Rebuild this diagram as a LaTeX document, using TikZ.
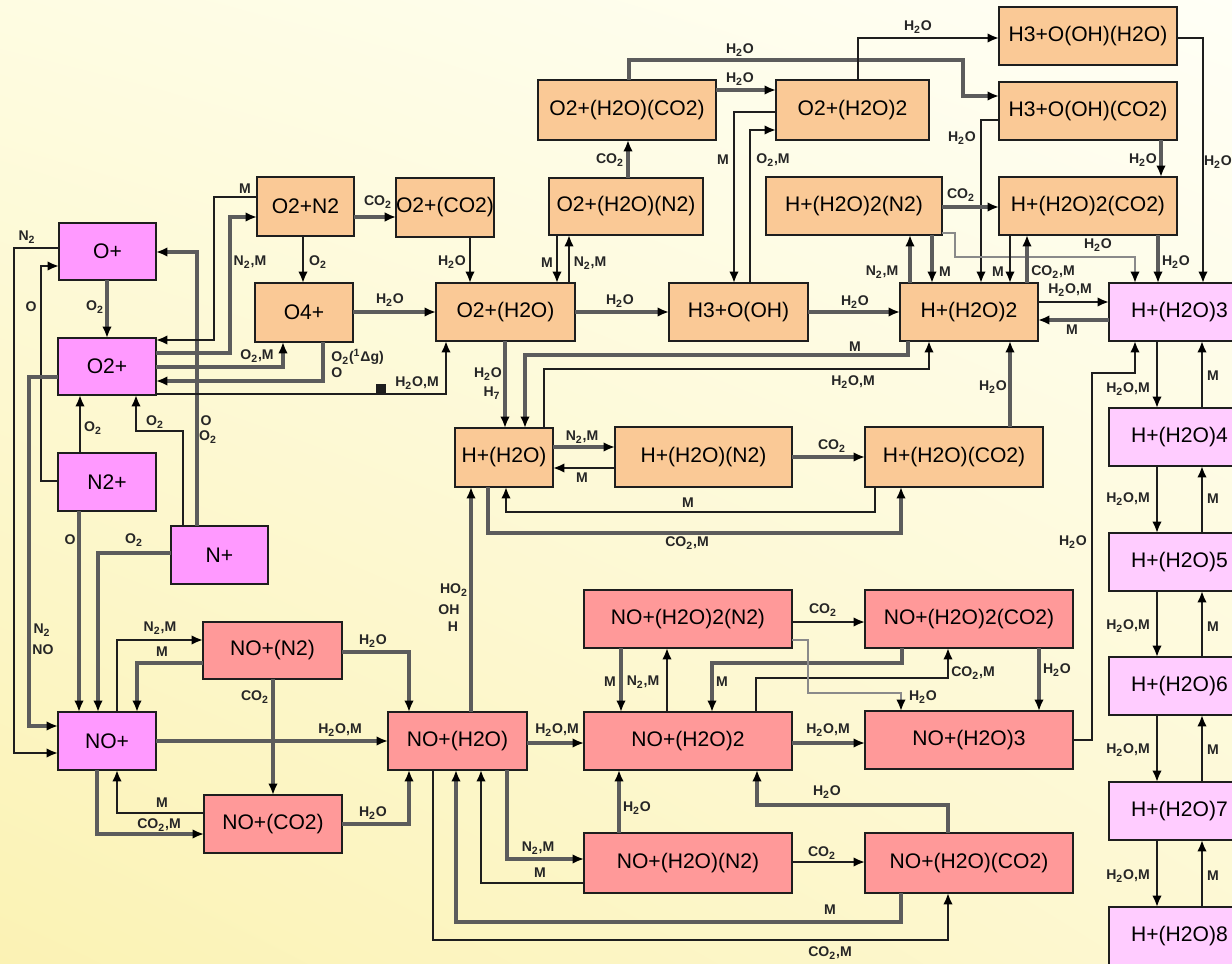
\documentclass[tikz,border=0pt]{standalone}
\usepackage{fontspec}
\setmainfont{Liberation Sans}
\usetikzlibrary{arrows.meta,shadings}
\definecolor{bgUL}{HTML}{FEFCE2}
\definecolor{bgUR}{HTML}{FFFFF6}
\definecolor{bgLL}{HTML}{FBF2B4}
\definecolor{bgLR}{HTML}{FDF8D2}
\definecolor{orgF}{HTML}{FAC996}
\definecolor{magF}{HTML}{FF99FF}
\definecolor{salF}{HTML}{FF9999}
\definecolor{lpkF}{HTML}{FFCCFF}
\definecolor{lnB}{HTML}{1E1E1E}
\definecolor{lnG}{HTML}{5C5C5C}
\definecolor{lnL}{HTML}{8A8A8A}
\newcommand\tw{\textsubscript{2}}
\newcommand\bx[7]{\node[#6, minimum width={(#4-#2)*0.02cm}, minimum height={(#5-#3)*0.02cm}] (#1) at ({(#2+#4)/2},{(#3+#5)/2}) {#7};}
\newcommand\lb[4]{\node[lab] (#1) at (#2,#3) {#4};}
\begin{document}
\begin{tikzpicture}[x=0.02cm,y=-0.02cm,
  boxbase/.style={rectangle, draw=lnB, line width=1.2pt, inner sep=0pt, outer sep=0pt, font=\fontsize{12}{14}\selectfont},
  obox/.style={boxbase, fill=orgF},
  mbox/.style={boxbase, fill=magF},
  sbox/.style={boxbase, fill=salF},
  pbox/.style={boxbase, fill=lpkF},
  lab/.style={inner sep=0pt, font=\fontsize{8}{9}\selectfont\bfseries, text=black!85},
  arr/.style={-{Latex[length=6.5pt,width=5.5pt,color=black]}},
  cb/.style={draw=lnB, line width=1.5pt, arr},
  cg/.style={draw=lnG, line width=1.9pt, arr},
  cl/.style={draw=lnL, line width=1.5pt, arr}]
\useasboundingbox (0,0) rectangle (1232,964);
\clip (0,0) rectangle (1232,964);
\shade[upper left=bgUL, upper right=bgUR, lower left=bgLL, lower right=bgLR] (0,0) rectangle (1232,964);

% ---------- boxes ----------
\bx{op}{59}{223}{156}{280}{mbox}{O+}
\bx{o2p}{58}{338}{156}{395}{mbox}{O2+}
\bx{n2p}{58}{453}{156}{511}{mbox}{N2+}
\bx{np}{171}{526}{268}{584}{mbox}{N+}
\bx{nop}{58}{712}{156}{770}{mbox}{NO+}
\bx{o2n2}{257}{177}{354}{236}{obox}{O2+N2}
\bx{o4p}{255}{283}{353}{342}{obox}{O4+}
\bx{o2co2}{397}{178}{493}{237}{obox}{O2+(CO2)}
\bx{o2w}{436}{283}{575}{341}{obox}{O2+(H2O)}
\bx{o2wn2}{549}{178}{703}{235}{obox}{O2+(H2O)(N2)}
\bx{o2wco2}{538}{80}{716}{140}{obox}{O2+(H2O)(CO2)}
\bx{o2w2}{776}{80}{929}{140}{obox}{O2+(H2O)2}
\bx{h3w}{999}{7}{1177}{65}{obox}{H3+O(OH)(H2O)}
\bx{h3co2}{999}{82}{1177}{140}{obox}{H3+O(OH)(CO2)}
\bx{hw2n2}{766}{177}{942}{235}{obox}{H+(H2O)2(N2)}
\bx{hw2co2}{999}{177}{1177}{235}{obox}{H+(H2O)2(CO2)}
\bx{h3}{669}{283}{808}{341}{obox}{H3+O(OH)}
\bx{hw2}{900}{283}{1038}{341}{obox}{H+(H2O)2}
\bx{hw}{455}{428}{553}{487}{obox}{H+(H2O)}
\bx{hwn2}{615}{427}{792}{487}{obox}{H+(H2O)(N2)}
\bx{hwco2}{865}{427}{1043}{487}{obox}{H+(H2O)(CO2)}
\bx{hw3}{1109}{283}{1250}{341}{pbox}{H+(H2O)3}
\bx{hw4}{1109}{408}{1250}{466}{pbox}{H+(H2O)4}
\bx{hw5}{1109}{533}{1250}{591}{pbox}{H+(H2O)5}
\bx{hw6}{1109}{657}{1250}{715}{pbox}{H+(H2O)6}
\bx{hw7}{1109}{782}{1250}{840}{pbox}{H+(H2O)7}
\bx{hw8}{1109}{907}{1250}{965}{pbox}{H+(H2O)8}
\bx{nopn2}{203}{622}{342}{679}{sbox}{NO+(N2)}
\bx{nopco2}{204}{795}{342}{853}{sbox}{NO+(CO2)}
\bx{now}{388}{712}{527}{770}{sbox}{NO+(H2O)}
\bx{now2}{584}{712}{792}{770}{sbox}{NO+(H2O)2}
\bx{now2n2}{584}{590}{792}{648}{sbox}{NO+(H2O)2(N2)}
\bx{now2co2}{865}{590}{1073}{648}{sbox}{NO+(H2O)2(CO2)}
\bx{now3}{865}{711}{1073}{769}{sbox}{NO+(H2O)3}
\bx{nown2}{584}{833}{792}{893}{sbox}{NO+(H2O)(N2)}
\bx{nowco2}{865}{833}{1073}{893}{sbox}{NO+(H2O)(CO2)}

% ---------- left group ----------
\draw[cb] (op.west |- 0,248) -- (14,248) -- (14,753) -- (nop.west |- 0,753);
\lb{l1}{27}{237}{N\tw}
\draw[cb] (n2p.west |- 0,481) -- (41,481) -- (41,266) -- (op.west |- 0,266);
\lb{l2}{31}{307}{O}
\draw[cg] (o2p.west |- 0,377) -- (29,377) -- (29,726) -- (nop.west |- 0,726);
\lb{l3}{42}{630}{N\tw}
\lb{l4}{43}{650}{NO}
\draw[cg] (op.south -| 107,0) -- (o2p.north -| 107,0);
\lb{l5}{95}{307}{O\tw}
\draw[cb] (n2p.north -| 80,0) -- (o2p.south -| 80,0);
\lb{l6}{93}{428}{O\tw}
\draw[cb] (np.north -| 183,0) -- (183,431) -- (136,431) -- (o2p.south -| 136,0);
\lb{l7}{155}{422}{O\tw}
\draw[cg] (np.north -| 197,0) -- (197,252) -- (op.east |- 0,252);
\lb{l8}{206}{421}{O}
\lb{l9}{208}{437}{O\tw}
\draw[cg] (n2p.south -| 79,0) -- (nop.north -| 79,0);
\lb{l10}{70}{540}{O}
\draw[cg] (np.west |- 0,553) -- (98,553) -- (nop.north -| 98,0);
\lb{l11}{134}{540}{O\tw}
\draw[cb] (nop.north -| 117,0) -- (117,640) -- (nopn2.west |- 0,640);
\lb{l12}{160}{628}{N\tw,M}
\draw[cg] (nopn2.west |- 0,663) -- (137,663) -- (nop.north -| 137,0);
\lb{l13}{162}{652}{M}
\draw[cg] (nopn2.east |- 0,652) -- (409,652) -- (now.north -| 409,0);
\lb{l14}{373}{641}{H\tw O}
\draw[cg] (nopn2.south -| 273,0) -- (nopco2.north -| 273,0);
\lb{l15}{255}{697}{CO\tw}
\draw[cg] (nop.east |- 0,741) -- (now.west |- 0,741);
\lb{l16}{340}{730}{H\tw O,M}
\draw[cb] (nopco2.west |- 0,813) -- (117,813) -- (nop.south -| 117,0);
\lb{l17}{162}{803}{M}
\draw[cg] (nop.south -| 97,0) -- (97,834) -- (nopco2.west |- 0,834);
\lb{l18}{159}{825}{CO\tw,M}
\draw[cg] (nopco2.east |- 0,824) -- (409,824) -- (now.south -| 409,0);
\lb{l19}{373}{813}{H\tw O}

% ---------- O2+ right side ----------
\draw[cb] (o2n2.west |- 0,197) -- (214,197) -- (214,340) -- (o2p.east |- 0,340);
\lb{l20}{245}{189}{M}
\draw[cg] (o2p.east |- 0,353) -- (230,353) -- (230,217) -- (o2n2.west |- 0,217);
\lb{l21}{250}{262}{N\tw,M}
\draw[cg] (o2p.east |- 0,367) -- (283,367) -- (o4p.south -| 283,0);
\lb{l22}{257}{356}{O\tw,M}
\draw[cg] (o4p.south -| 323,0) -- (323,381) -- (o2p.east |- 0,381);
\node[lab,anchor=west] (l23) at (331,357) {O\tw(\textsuperscript{1}Δg)};
\node[lab,anchor=west] (l24) at (331,373) {O};
\draw[cb] (o2p.east |- 0,394) -- (446,394) -- (o2w.south -| 446,0);
\fill[lnB] (376,384) rectangle (386,394);
\lb{l25}{417}{383}{H\tw O,M}
\draw[cg] (o2n2.east |- 0,217) -- (o2co2.west |- 0,217);
\lb{l26}{378}{202}{CO\tw}
\draw[cb] (o2n2.south -| 303,0) -- (o4p.north -| 303,0);
\lb{l27}{318}{262}{O\tw}
\draw[cg] (o4p.east |- 0,312) -- (o2w.west |- 0,312);
\lb{l28}{390}{300}{H\tw O}
\draw[cb] (o2co2.south -| 470,0) -- (o2w.north -| 470,0);
\lb{l29}{452}{262}{H\tw O}
\draw[cb] (o2wn2.south -| 557,0) -- (o2w.north -| 557,0);
\lb{l30}{547}{263}{M}
\draw[cb] (o2w.north -| 569,0) -- (o2wn2.south -| 569,0);
\lb{l31}{590}{263}{N\tw,M}
\draw[cg] (o2wn2.north -| 628,0) -- (o2wco2.south -| 628,0);
\lb{l32}{610}{160}{CO\tw}
\draw[cg] (o2wco2.east |- 0,90) -- (o2w2.west |- 0,90);
\lb{l33}{740}{79}{H\tw O}
\draw[cg] (o2wco2.north -| 629,0) -- (629,60) -- (963,60) -- (963,96) -- (h3co2.west |- 0,96);
\lb{l34}{740}{50}{H\tw O}
\draw[cb] (o2w2.north -| 858,0) -- (858,38) -- (h3w.west |- 0,38);
\lb{l35}{918}{27}{H\tw O}
\draw[cb] (h3w.east |- 0,38) -- (1203,38) -- (hw3.north -| 1203,0);
\lb{l36}{1218}{162}{H\tw O}
\draw[cg] (h3co2.south -| 1161,0) -- (hw2co2.north -| 1161,0);
\lb{l37}{1143}{160}{H\tw O}
\draw[cb] (h3co2.west |- 0,120) -- (981,120) -- (hw2.north -| 981,0);
\lb{l38}{962}{138}{H\tw O}
\draw[cb] (o2w2.west |- 0,112) -- (734,112) -- (h3.north -| 734,0);
\lb{l39}{723}{160}{M}
\draw[cb] (h3.north -| 750,0) -- (750,130) -- (o2w2.west |- 0,130);
\lb{l40}{773}{160}{O\tw,M}
\draw[cg] (hw2n2.east |- 0,207) -- (hw2co2.west |- 0,207);
\lb{l41}{961}{195}{CO\tw}
\draw[cg] (hw2.north -| 910,0) -- (hw2n2.south -| 910,0);
\lb{l42}{882}{272}{N\tw,M}
\draw[cg] (hw2n2.south -| 932,0) -- (hw2.north -| 932,0);
\lb{l43}{945}{272}{M}
\draw[cl] (hw2n2.east |- 0,233) -- (955,233) -- (955,257) -- (1135,257) -- (hw3.north -| 1135,0);
\lb{l44}{1098}{245}{H\tw O}
\draw[cb] (hw2co2.south -| 1010,0) -- (hw2.north -| 1010,0);
\lb{l45}{998}{272}{M}
\draw[cg] (hw2.north -| 1027,0) -- (hw2co2.south -| 1027,0);
\lb{l46}{1053}{272}{CO\tw,M}
\draw[cg] (hw2co2.south -| 1158,0) -- (hw3.north -| 1158,0);
\lb{l47}{1176}{262}{H\tw O}

% ---------- middle row ----------
\draw[cg] (h3.east |- 0,312) -- (hw2.west |- 0,312);
\lb{l48}{855}{302}{H\tw O}
\draw[cg] (o2w.east |- 0,312) -- (h3.west |- 0,312);
\lb{l49}{620}{301}{H\tw O}
\draw[cb] (hw2.east |- 0,302) -- (hw3.west |- 0,302);
\lb{l50}{1070}{290}{H\tw O,M}
\draw[cg] (hw3.west |- 0,320) -- (hw2.east |- 0,320);
\lb{l51}{1072}{330}{M}
\draw[cg] (o2w.south -| 505,0) -- (hw.north -| 505,0);
\lb{l52}{488}{374}{H\tw O}
\lb{l53}{492}{393}{H\textsubscript{7}}
\draw[cg] (hw2.south -| 908,0) -- (908,355) -- (525,355) -- (hw.north -| 525,0);
\lb{l54}{855}{347}{M}
\draw[cb] (hw.north -| 544,0) -- (544,369) -- (929,369) -- (hw2.south -| 929,0);
\lb{l55}{853}{382}{H\tw O,M}
\draw[cg] (hw.east |- 0,447) -- (hwn2.west |- 0,447);
\lb{l56}{582}{437}{N\tw,M}
\draw[cb] (hwn2.west |- 0,468) -- (hw.east |- 0,468);
\lb{l57}{582}{478}{M}
\draw[cg] (hwn2.east |- 0,457) -- (hwco2.west |- 0,457);
\lb{l58}{832}{446}{CO\tw}
\draw[cb] (hwco2.south -| 875,0) -- (875,512) -- (506,512) -- (hw.south -| 506,0);
\lb{l59}{688}{503}{M}
\draw[cg] (hw.south -| 488,0) -- (488,533) -- (901,533) -- (hwco2.south -| 901,0);
\lb{l60}{687}{543}{CO\tw,M}
\draw[cg] (hwco2.north -| 1010,0) -- (hw2.south -| 1010,0);
\lb{l61}{993}{387}{H\tw O}
\draw[cg] (now.north -| 471,0) -- (hw.south -| 471,0);
\lb{l62}{454}{590}{HO\tw}
\lb{l63}{449}{610}{OH}
\lb{l64}{453}{627}{H}

% ---------- right column ----------
\draw[cb] (hw3.south -| 1157,0) -- (hw4.north -| 1157,0);
\draw[cb] (hw4.north -| 1202,0) -- (hw3.south -| 1202,0);
\lb{l65}{1128}{389}{H\tw O,M}
\lb{l66}{1213}{376}{M}
\draw[cb] (hw4.south -| 1157,0) -- (hw5.north -| 1157,0);
\draw[cb] (hw5.north -| 1202,0) -- (hw4.south -| 1202,0);
\lb{l67}{1128}{499}{H\tw O,M}
\lb{l68}{1213}{499}{M}
\draw[cb] (hw5.south -| 1157,0) -- (hw6.north -| 1157,0);
\draw[cb] (hw6.north -| 1202,0) -- (hw5.south -| 1202,0);
\lb{l69}{1128}{626}{H\tw O,M}
\lb{l70}{1213}{627}{M}
\draw[cb] (hw6.south -| 1157,0) -- (hw7.north -| 1157,0);
\draw[cb] (hw7.north -| 1202,0) -- (hw6.south -| 1202,0);
\lb{l71}{1128}{750}{H\tw O,M}
\lb{l72}{1213}{750}{M}
\draw[cb] (hw7.south -| 1157,0) -- (hw8.north -| 1157,0);
\draw[cb] (hw8.north -| 1202,0) -- (hw7.south -| 1202,0);
\lb{l73}{1128}{876}{H\tw O,M}
\lb{l74}{1213}{876}{M}
\draw[cb] (now3.east |- 0,740) -- (1092,740) -- (1092,373) -- (1135,373) -- (hw3.south -| 1135,0);
\lb{l75}{1073}{542}{H\tw O}

% ---------- NO+ hydrates ----------
\draw[cg] (now.east |- 0,743) -- (now2.west |- 0,743);
\lb{l76}{557}{730}{H\tw O,M}
\draw[cg] (now2.east |- 0,743) -- (now3.west |- 0,743);
\lb{l77}{828}{730}{H\tw O,M}
\draw[cg] (now2n2.south -| 621,0) -- (now2.north -| 621,0);
\lb{l78}{610}{682}{M}
\draw[cb] (now2.north -| 667,0) -- (now2n2.south -| 667,0);
\lb{l79}{643}{682}{N\tw,M}
\draw[cg] (now2co2.south -| 902,0) -- (902,663) -- (712,663) -- (now2.north -| 712,0);
\lb{l80}{722}{682}{M}
\draw[cb] (now2.north -| 756,0) -- (756,678) -- (948,678) -- (now2co2.south -| 948,0);
\lb{l81}{973}{673}{CO\tw,M}
\draw[cb] (now2n2.east |- 0,622) -- (now2co2.west |- 0,622);
\lb{l82}{823}{610}{CO\tw}
\draw[cl] (now2n2.east |- 0,640) -- (808,640) -- (808,693) -- (901,693) -- (now3.north -| 901,0);
\lb{l83}{923}{697}{H\tw O}
\draw[cg] (now2co2.south -| 1039,0) -- (now3.north -| 1039,0);
\lb{l84}{1057}{670}{H\tw O}
\draw[cg] (nown2.north -| 619,0) -- (now2.south -| 619,0);
\lb{l85}{637}{808}{H\tw O}
\draw[cg] (nowco2.north -| 948,0) -- (948,805) -- (757,805) -- (now2.south -| 757,0);
\lb{l86}{827}{792}{H\tw O}
\draw[cb] (nown2.east |- 0,862) -- (nowco2.west |- 0,862);
\lb{l87}{822}{853}{CO\tw}
\draw[cg] (now.south -| 507,0) -- (507,859) -- (nown2.west |- 0,859);
\lb{l88}{538}{848}{N\tw,M}
\draw[cb] (nown2.west |- 0,883) -- (481,883) -- (now.south -| 481,0);
\lb{l89}{540}{873}{M}
\draw[cg] (nowco2.south -| 901,0) -- (901,922) -- (456,922) -- (now.south -| 456,0);
\lb{l90}{830}{910}{M}
\draw[cb] (now.south -| 433,0) -- (433,940) -- (948,940) -- (nowco2.south -| 948,0);
\lb{l91}{830}{953}{CO\tw,M}
\end{tikzpicture}
\end{document}
